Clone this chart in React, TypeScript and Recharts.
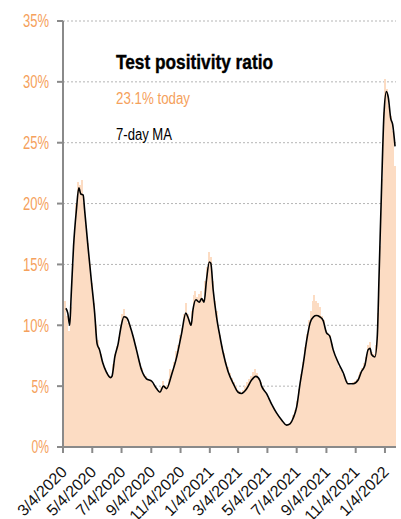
import { ComposedChart, Bar, Line, XAxis, YAxis, CartesianGrid } from 'recharts'

// days counted from 3/4/2020
const barStepDays = 4
const dailyRatio = [
  14.5, 12.0, 10.8, 9.5, 11.5, 15.0, 18.0, 20.0, 21.8, 21.5, 21.9, 20.0, 18.2, 16.8, 15.0, 13.5,
  11.8, 10.0, 8.8, 8.2, 7.6, 6.9, 6.5, 6.2, 5.9, 5.8, 6.8, 7.6, 8.3, 9.0, 10.0, 10.9,
  11.3, 10.8, 10.2, 10.0, 9.4, 8.9, 8.2, 7.5, 6.9, 6.5, 6.0, 5.8, 5.6, 5.6, 5.5, 5.2,
  5.0, 4.8, 4.7, 4.9, 5.4, 5.0, 5.1, 5.6, 6.4, 6.3, 7.0, 7.9, 8.4, 9.2, 9.8, 10.9,
  11.8, 10.9, 10.3, 11.2, 12.5, 12.8, 12.3, 12.6, 12.8, 12.2, 13.6, 14.8, 16.0, 15.6, 13.6, 12.0,
  11.2, 10.0, 9.2, 8.3, 7.7, 7.0, 6.6, 6.1, 5.7, 5.3, 5.0, 4.7, 4.6, 4.4, 4.7, 5.0,
  5.3, 5.6, 5.8, 6.2, 6.4, 6.1, 5.7, 5.3, 4.9, 4.6, 4.3, 4.0, 3.7, 3.4, 3.1, 2.9,
  2.6, 2.4, 2.2, 2.0, 1.9, 1.8, 1.9, 2.1, 2.6, 3.0, 3.8, 4.8, 6.0, 7.0, 8.2, 9.3,
  10.4, 11.2, 12.0, 12.5, 12.0, 11.8, 11.5, 10.8, 10.4, 9.6, 9.4, 9.2, 8.5, 7.8, 7.4, 7.0,
  6.6, 6.3, 6.0, 5.7, 5.4, 5.2, 5.1, 5.3, 5.4, 5.6, 5.9, 6.2, 6.5, 6.9, 7.4, 8.4,
  8.6, 7.8, 7.6, 8.4, 11.0, 16.5, 22.0, 27.5, 30.2, 29.4, 28.0, 27.2, 26.0, 23.1
]

const maDays = [
  6, 10, 14, 17, 22, 28, 33, 37, 42, 45, 52, 59, 66, 71, 76, 83, 90, 99, 102, 108, 115, 121, 127, 133,
  140, 146, 153, 164, 174, 185, 195, 202, 209, 216, 226, 237, 247, 256, 261, 267, 271, 277, 284, 289,
  294, 299, 305, 308, 313, 320, 327, 334, 344, 355, 365, 372, 383, 393, 402, 410, 414, 424, 435, 445,
  456, 466, 473, 480, 487, 494, 501, 508, 515, 522, 528, 535, 542, 549, 556, 563, 574, 584, 594, 605,
  615, 622, 629, 636, 640, 643, 650, 655, 659, 664, 669, 674, 678, 683, 687, 692
]
const maRatio = [
  11.4, 11.0, 10.0, 12.4, 16.5, 19.5, 21.3, 20.8, 20.7, 19.5, 16.5, 13.7, 11.0, 8.5, 8.0, 6.9, 6.2, 5.7, 5.8, 7.4, 8.5, 9.9, 10.7, 10.6,
  9.9, 9.1, 8.0, 6.3, 5.6, 5.4, 4.8, 4.5, 5.0, 4.8, 5.9, 7.4, 9.3, 11.0, 10.6, 10.0, 11.3, 12.1, 11.9, 12.2,
  11.9, 13.7, 15.2, 15.1, 12.9, 10.7, 9.1, 7.7, 6.2, 5.2, 4.5, 4.4, 4.8, 5.5, 5.8, 5.5, 5.0, 4.4, 3.5, 2.8,
  2.2, 1.8, 1.9, 2.4, 3.3, 5.2, 6.9, 8.8, 10.2, 10.7, 10.8, 10.7, 10.4, 9.4, 9.1, 8.0, 6.9, 6.1, 5.2, 5.2,
  5.5, 6.2, 6.7, 8.0, 8.1, 7.6, 7.4, 9.1, 14.5, 21.4, 27.4, 29.2, 28.7, 27.0, 26.5, 24.7
]

const tickDays = [0, 61, 122, 184, 245, 306, 365, 426, 487, 549, 610, 671]
const tickLabels = [
  '3/4/2020', '5/4/2020', '7/4/2020', '9/4/2020', '11/4/2020', '1/4/2021',
  '3/4/2021', '5/4/2021', '7/4/2021', '9/4/2021', '11/4/2021', '1/4/2022'
]
const yTicks = [0, 5, 10, 15, 20, 25, 30, 35]

const ORANGE = '#f5a15c'
const BAR = '#fcdcc3'
const FONT = '"Liberation Sans", Arial, sans-serif'

const barRows = dailyRatio.map((v, i) => ({ day: i * barStepDays, ratio: v }))
const maRows = maDays.map((d, i) => ({ day: d, ma: maRatio[i] }))

function DateTick({ x, y, payload }: any) {
  const label = tickLabels[tickDays.indexOf(payload.value)] ?? ''
  return (
    <g transform={`translate(${x - 3},${y + 10})`}>
      <text x={0} y={0} dy="0.7em" textAnchor="end" transform="rotate(-45)" fontSize={16} fontFamily={FONT} fill="#111">
        {label}
      </text>
    </g>
  )
}

// narrow-looking percent labels: squeeze to the reference width
function PctTick({ x, y, payload }: any) {
  const label = `${payload.value}%`
  return (
    <text
      x={x}
      y={y}
      dy="0.36em"
      textAnchor="end"
      fontSize={18}
      fontFamily={FONT}
      fill={ORANGE}
      textLength={label.length === 3 ? 26 : 17.5}
      lengthAdjust="spacingAndGlyphs"
    >
      {label}
    </text>
  )
}

// each bar covers its 4 days; recharts squeezes the band, so draw a fixed width
function DayBar(props: any) {
  const { x, y, width, height } = props
  if (!height || height <= 0) return null
  const cx = x + width / 2
  return <rect x={cx - 1} y={y} width={2} height={height} fill={BAR} shapeRendering="crispEdges" />
}

export default function App() {
  return (
    <div style={{ position: 'absolute', left: 0, top: 0, width: 401, height: 519, background: '#fff' }}>
      <ComposedChart
        width={401}
        height={519}
        data={barRows}
        margin={{ top: 21, right: 5, left: 0, bottom: 0 }}
        barCategoryGap={0}
        barGap={0}
      >
        <CartesianGrid vertical={false} stroke="#b5b5b5" strokeDasharray="2 2" />
        <XAxis
          dataKey="day"
          type="number"
          domain={[0, 694]}
          ticks={tickDays}
          interval={0}
          height={72}
          tick={<DateTick />}
          tickSize={6}
          stroke="#8a8a8a"
          strokeWidth={2}
        />
        <YAxis
          type="number"
          domain={[0, 35]}
          ticks={yTicks}
          width={63}
          tickSize={6}
          tickMargin={8}
          stroke="#8a8a8a"
          strokeWidth={2}
          tick={<PctTick />}
        />
        <Bar dataKey="ratio" fill={BAR} shape={<DayBar />} isAnimationActive={false} />
        <Line
          data={maRows}
          dataKey="ma"
          type="monotone"
          stroke="#000"
          strokeWidth={1.6}
          dot={false}
          isAnimationActive={false}
        />
        <text
          x={116}
          y={69}
          fontSize={21}
          fontWeight="bold"
          fontFamily={FONT}
          fill="#000"
          stroke="#000"
          strokeWidth={0.4}
          textLength={157}
          lengthAdjust="spacingAndGlyphs"
        >
          Test positivity ratio
        </text>
        <text x={116} y={104} fontSize={16} fontFamily={FONT} fill={ORANGE} textLength={74} lengthAdjust="spacingAndGlyphs">
          23.1% today
        </text>
        <text x={116} y={140} fontSize={16} fontFamily={FONT} fill="#000" textLength={56} lengthAdjust="spacingAndGlyphs">
          7-day MA
        </text>
      </ComposedChart>
    </div>
  )
}
